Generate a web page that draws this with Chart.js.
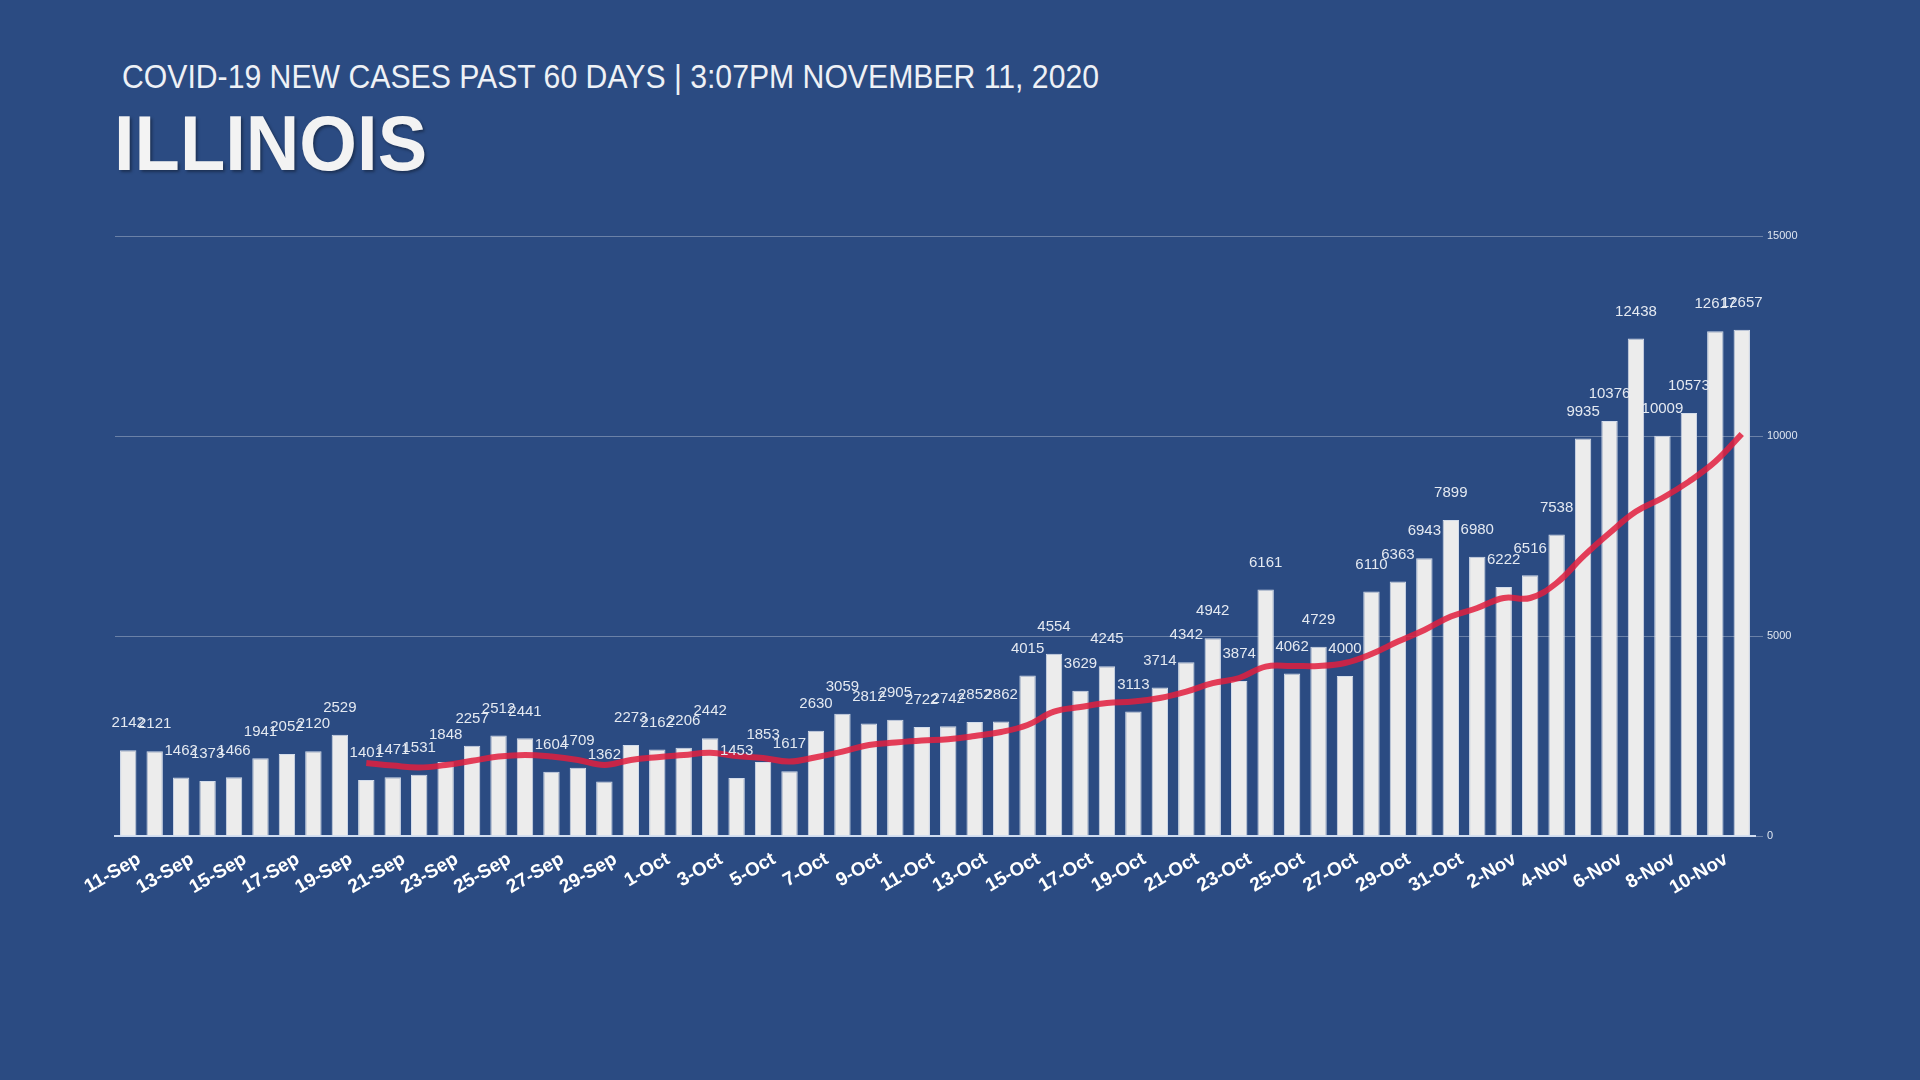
<!DOCTYPE html>
<html>
<head>
<meta charset="utf-8">
<script src="https://cdn.jsdelivr.net/npm/chart.js@4.4.1/dist/chart.umd.min.js"></script>
<style>
  html, body { margin: 0; padding: 0; background: #2b4b82; }
  body { width: 1920px; height: 1080px; position: relative; overflow: hidden; font-family: "Liberation Sans", Arial, sans-serif; }
  #sub { position: absolute; left: 122px; top: 60px; font-size: 33px; line-height: 1; color: #eef1f6; white-space: nowrap; transform-origin: 0 0; }
  #head { position: absolute; left: 114px; top: 105px; font-size: 77px; font-weight: bold; line-height: 1; color: #f3f3f3; white-space: nowrap; transform-origin: 0 0; text-shadow: 2px 2px 3px rgba(0,0,0,.35); }
  #wrap { position: absolute; left: 0; top: 0; width: 1920px; height: 1080px; }
</style>
</head>
<body>
<div id="sub">COVID-19 NEW CASES PAST 60 DAYS | 3:07PM NOVEMBER 11, 2020</div>
<div id="head">ILLINOIS</div>
<div id="wrap"><canvas id="c" width="1920" height="1080"></canvas></div>
<script>
const days = [
  '11-Sep','12-Sep','13-Sep','14-Sep','15-Sep','16-Sep','17-Sep','18-Sep','19-Sep','20-Sep',
  '21-Sep','22-Sep','23-Sep','24-Sep','25-Sep','26-Sep','27-Sep','28-Sep','29-Sep','30-Sep',
  '1-Oct','2-Oct','3-Oct','4-Oct','5-Oct','6-Oct','7-Oct','8-Oct','9-Oct','10-Oct',
  '11-Oct','12-Oct','13-Oct','14-Oct','15-Oct','16-Oct','17-Oct','18-Oct','19-Oct','20-Oct',
  '21-Oct','22-Oct','23-Oct','24-Oct','25-Oct','26-Oct','27-Oct','28-Oct','29-Oct','30-Oct',
  '31-Oct','1-Nov','2-Nov','3-Nov','4-Nov','5-Nov','6-Nov','7-Nov','8-Nov','9-Nov',
  '10-Nov','11-Nov'
];

const newCases = [
  2142, 2121, 1462, 1373, 1466, 1941, 2052, 2120, 2529, 1401,
  1471, 1531, 1848, 2257, 2512, 2441, 1604, 1709, 1362, 2273,
  2162, 2206, 2442, 1453, 1853, 1617, 2630, 3059, 2812, 2905,
  2722, 2742, 2852, 2862, 4015, 4554, 3629, 4245, 3113, 3714,
  4342, 4942, 3874, 6161, 4062, 4729, 4000, 6110, 6363, 6943,
  7899, 6980, 6222, 6516, 7538, 9935, 10376, 12438, 10009, 10573,
  12617, 12657
];

// red trend line
const trend = [
  null, null, null, null, null, null, null, null, null, 1825,
  1760, 1710, 1775, 1880, 1985, 2025, 1985, 1900, 1775, 1900,
  1970, 2025, 2080, 2000, 1950, 1860, 1970, 2110, 2275, 2335,
  2385, 2420, 2500, 2600, 2775, 3110, 3225, 3325, 3360, 3450,
  3610, 3820, 3950, 4235, 4250, 4250, 4325, 4550, 4860, 5150,
  5485, 5700, 5950, 5950, 6325, 6985, 7575, 8110, 8450, 8860,
  9360, 10050
];

const yTicks = [0, 5000, 10000, 15000];

function fitWidth(id, target) {
  const el = document.getElementById(id);
  el.style.transform = 'scaleX(' + (target / el.offsetWidth) + ')';
}
fitWidth('sub', 977);
fitWidth('head', 313);

Chart.defaults.font.family = '"Liberation Sans", Arial, sans-serif';

const barLabels = {
  id: 'barLabels',
  afterDatasetsDraw(chart) {
    const ctx = chart.ctx;
    const meta = chart.getDatasetMeta(0);
    ctx.save();
    ctx.font = '15px "Liberation Sans", Arial, sans-serif';
    ctx.fillStyle = '#e4e9f1';
    ctx.textAlign = 'center';
    ctx.textBaseline = 'middle';
    meta.data.forEach((bar, i) => {
      ctx.fillText(String(newCases[i]), bar.x, bar.y - 27);
    });
    ctx.restore();
  }
};

new Chart(document.getElementById('c'), {
  type: 'bar',
  data: {
    labels: days,
    datasets: [
      {
        type: 'bar',
        data: newCases,
        backgroundColor: '#ececec',
        borderColor: '#d3dcea',
        borderWidth: 1,
        barPercentage: 0.62,
        categoryPercentage: 1,
        order: 1
      },
      {
        type: 'line',
        data: trend,
        borderColor: 'rgba(226,30,62,0.85)',
        borderWidth: 6,
        pointRadius: 0,
        tension: 0.4,
        order: 0
      }
    ]
  },
  options: {
    responsive: false,
    animation: false,
    devicePixelRatio: 1,
    layout: { padding: { left: 115, right: 115, top: 236, bottom: 184 } },
    plugins: { legend: { display: false }, tooltip: { enabled: false } },
    scales: {
      x: {
        grid: { display: false, drawTicks: false },
        border: { display: true, color: '#cfdcf0', width: 2 },
        ticks: {
          color: '#ffffff',
          font: { size: 19, weight: 'bold' },
          minRotation: 30,
          maxRotation: 30,
          autoSkip: false,
          padding: 12,
          labelOffset: 11,
          callback: (v, i) => (i % 2 === 0 ? days[i] : '')
        },
        afterFit(s) { s.height = 60; }
      },
      y: {
        position: 'right',
        min: yTicks[0],
        max: yTicks[yTicks.length - 1],
        afterBuildTicks(s) { s.ticks = yTicks.map(v => ({ value: v })); },
        ticks: { color: '#dfe6f0', font: { size: 11 }, padding: 4, callback: v => String(v) },
        grid: { color: 'rgba(255,255,255,0.3)', lineWidth: 1, tickLength: 8 },
        border: { display: false },
        afterFit(s) { s.width = 50; }
      }
    }
  },
  plugins: [barLabels]
});
</script>
</body>
</html>
